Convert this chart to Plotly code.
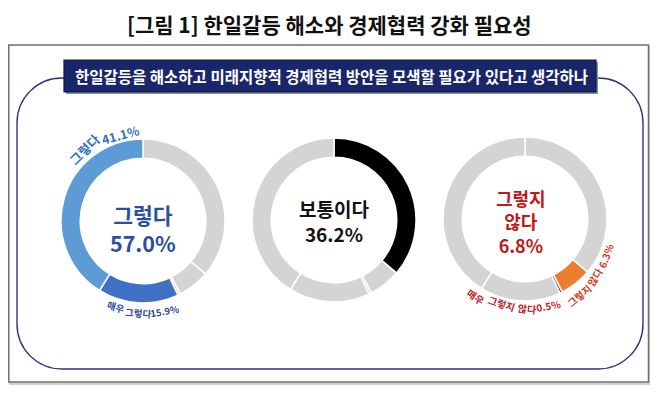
import plotly.graph_objects as go

# ---------------- data ----------------
categories = ["보통이다", "그렇지 않다", "매우 그렇지 않다", "매우 그렇다", "그렇다"]
values = [36.2, 6.3, 0.5, 15.9, 41.1]

title_text = "[그림 1] 한일갈등 해소와 경제협력 강화 필요성"
question_text = "한일갈등을 해소하고 미래지향적 경제협력 방안을 모색할 필요가 있다고 생각하나"

agree_total = values[categories.index("그렇다")] + values[categories.index("매우 그렇다")]
neutral_total = values[categories.index("보통이다")]
disagree_total = values[categories.index("그렇지 않다")] + values[categories.index("매우 그렇지 않다")]

# page is offset by the default 8px body margin; axis ranges keep page-pixel coordinates
OX, OY = 8, 8
W, H = 642, 379
FONT = "Noto Sans CJK KR"
GRAY = "#d4d4d4"

fig = go.Figure()

fig.add_trace(go.Scatter(x=[OX, OX + W], y=[OY, OY + H], mode="markers",
                         marker=dict(opacity=0), hoverinfo="skip", showlegend=False))


def dom(cx, cy, r):
    return dict(x=[(cx - OX - r) / W, (cx - OX + r) / W],
                y=[(OY + H - cy - r) / H, (OY + H - cy + r) / H])


def donut(colors, cx, cy, r=82):
    fig.add_trace(go.Pie(
        labels=categories, values=values, sort=False, direction="clockwise",
        rotation=0, hole=0.765, textinfo="none", hoverinfo="skip",
        marker=dict(colors=colors, line=dict(color="white", width=1.5)),
        domain=dom(cx, cy, r), showlegend=False))


donut([GRAY, GRAY, GRAY, "#3f70c6", "#5c9bd6"], 143, 221)
donut(["#000000", GRAY, GRAY, GRAY, GRAY], 334, 220)
donut([GRAY, "#ed7d31", "#7a2a12", GRAY, GRAY], 525, 219)

shapes = []
# outer frame
shapes.append(dict(type="rect", x0=10, y0=47, x1=649.5, y1=384, line=dict(color="#cfcfcf", width=2),
                   layer="below"))
shapes.append(dict(type="rect", x0=8.8, y0=45, x1=648.5, y1=382, line=dict(color="#6e6e6e", width=1.5),
                   fillcolor="white", layer="below"))
# inner rounded frame
shapes.append(dict(type="path",
                   path="M 62,78 L 598,78 C 623,78 643,98 643,123 L 643,324 C 643,349 623,369 598,369 "
                        "L 62,369 C 37,369 17,349 17,324 L 17,123 C 17,98 37,78 62,78 Z",
                   line=dict(color="#2e3580", width=1.4), layer="below"))
# banner
shapes.append(dict(type="rect", x0=66, y0=62, x1=598, y1=94, fillcolor="#8890a8",
                   line=dict(width=0), layer="below"))
shapes.append(dict(type="rect", x0=64, y0=60, x1=596, y1=92, fillcolor="#19276a",
                   line=dict(color="#0e1850", width=1.2), layer="below"))

annotations = []


def txt(x, y, text, size, color, bold=True, angle=0):
    annotations.append(dict(x=x, y=y, xref="x", yref="y", text=(f"<b>{text}</b>" if bold else text),
                            showarrow=False, textangle=angle,
                            font=dict(family=FONT, size=size, color=color),
                            xanchor="center", yanchor="middle"))


txt(329, 24, title_text, 21, "#111111")
txt(331, 76, question_text, 15.5, "#ffffff")

# centre labels
txt(143, 228, f"그렇다<br>{agree_total:.1f}%", 21.5, "#2b4f9e")
txt(334, 221, f"보통이다<br>{neutral_total:.1f}%", 19, "#111111")
txt(521, 221, f"그렇지<br>않다<br>{disagree_total:.1f}%", 18, "#c01818")

# curved segment labels (approximated by rotated words)
v = dict(zip(categories, values))
txt(84, 149, "그렇다", 13, "#3172c2", angle=-45)
txt(120, 134, f"{v['그렇다']:.1f}%", 12.5, "#3172c2", angle=-15)
txt(116, 307, "매우", 9.5, "#2a4a9c", angle=18)
txt(138, 313, "그렇다", 9.5, "#2a4a9c", angle=4)
txt(164, 311, f"{v['매우 그렇다']:.1f}%", 9.5, "#2a4a9c", angle=-10)
txt(476, 296, "매우", 10, "#c0202a", angle=35)
txt(502, 303, "그렇지", 10, "#c0202a", angle=18)
txt(527, 308, "않다", 10, "#c0202a", angle=5)
txt(548, 305, f"{v['매우 그렇지 않다']:.1f}%", 10, "#c0202a", angle=-10)
txt(579, 295, "그렇지", 10, "#cc3a2a", angle=-40)
txt(594, 277, "않다", 10, "#cc3a2a", angle=-60)
txt(605, 256, f"{v['그렇지 않다']:.1f}%", 10, "#cc3a2a", angle=-70)

fig.update_layout(
    width=W, height=H, margin=dict(l=0, r=0, t=0, b=0),
    paper_bgcolor="white", plot_bgcolor="white",
    xaxis=dict(range=[OX, OX + W], visible=False, domain=[0, 1], fixedrange=True),
    yaxis=dict(range=[OY + H, OY], visible=False, domain=[0, 1], fixedrange=True),
    shapes=shapes, annotations=annotations, showlegend=False,
)

fig.write_html("out.html")
